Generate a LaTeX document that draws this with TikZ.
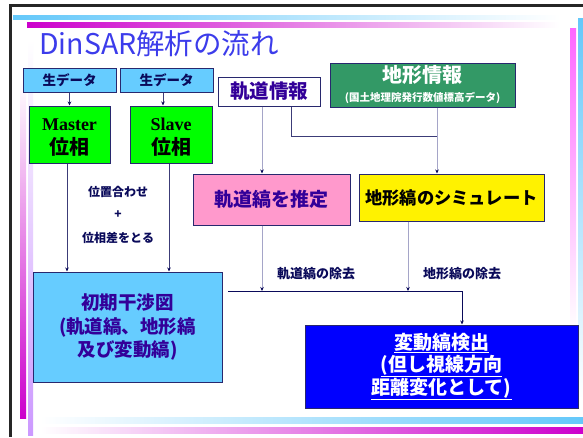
\documentclass[tikz,border=0pt]{standalone}
\usepackage{fontspec}
\setmainfont{Liberation Serif}
\newfontfamily\jp{Noto Sans CJK JP}
\usetikzlibrary{arrows.meta}
\newcommand\myfs[2]{\fontsize{#1}{#2}\selectfont}
\newcommand\lowtwo[2]{\raisebox{-3pt}[\height][\depth]{\begin{tabular}{@{}c@{}}{\bfseries #1}\\{\jp\bfseries\myfs{20}{22}#2}\end{tabular}}}
\definecolor{titleblue}{RGB}{60,60,235}
\definecolor{skyb}{RGB}{102,204,255}
\definecolor{navyb}{RGB}{40,40,110}
\definecolor{dgreen}{RGB}{51,153,102}
\definecolor{pinkb}{RGB}{255,153,204}
\definecolor{purp}{RGB}{51,0,153}
\definecolor{lav}{RGB}{165,165,200}
\definecolor{navyl}{RGB}{60,60,120}
\definecolor{darkn}{RGB}{10,10,90}
\definecolor{lblue}{RGB}{100,200,250}
\definecolor{magb}{RGB}{204,0,204}
\definecolor{pmag}{RGB}{255,102,255}
\definecolor{lilac}{RGB}{204,153,255}
\tikzset{
  box/.style={draw=navyb, line width=1pt, inner sep=0pt, align=center},
  lbl/.style={font=\jp\bfseries\myfs{12}{14}, text=darkn, inner sep=0pt},
  arr/.style={line width=0.8pt, -{Stealth[length=4pt,width=3.5pt,color=darkn]}},
  lavline/.style={arr, draw=lav},
  navline/.style={arr, draw=navyl},
}
\begin{document}
\begin{tikzpicture}[x=1pt,y=-1pt]
\useasboundingbox (0,0) rectangle (583,437);
\fill[white] (0,0) rectangle (583,437);
% frame
\fill[black!85] (9,4) rectangle (583,6.5);
\fill[black!85] (9,4) rectangle (11.5,437);
% decorative bars
\shade[left color=lblue, right color=white] (13,15) rectangle (560,19);
\shade[left color=magb, right color=white] (27,22) rectangle (560,27);
\shade[top color=white, bottom color=magb] (20,80) rectangle (26,418);
\shade[top color=white, bottom color=lilac] (28,40) rectangle (33,435);
\shade[top color=pmag, bottom color=white] (570,28) rectangle (576,330);
\shade[top color=lblue, bottom color=white] (578,18) rectangle (583,400);
\shade[left color=white, right color=lblue] (40,417) rectangle (583,423);
\shade[left color=white, right color=magb] (40,427) rectangle (583,433);
% title
\node[anchor=west, inner sep=0pt, text=titleblue, font=\jp\myfs{28.5}{30}] (title) at (39,44) {DinSAR解析の流れ};
% boxes
\node[box, fill=skyb, minimum width=93pt, minimum height=24pt, font=\jp\bfseries\myfs{13.5}{15}, text=darkn] (raw1) at (69.5,80) {生データ};
\node[box, fill=skyb, minimum width=93pt, minimum height=24pt, font=\jp\bfseries\myfs{13.5}{15}, text=darkn] (raw2) at (166.5,80) {生データ};
\node[box, fill=green, minimum width=81pt, minimum height=57pt, text=black, font=\myfs{18}{24}] (master) at (69.5,134.5) {\lowtwo{Master}{位相}};
\node[box, fill=green, minimum width=82pt, minimum height=57pt, text=black, font=\myfs{18}{24}] (slave) at (171,134.5) {\lowtwo{Slave}{位相}};
\node[box, fill=white, minimum width=102pt, minimum height=29pt, font=\jp\bfseries\myfs{19.5}{21}, text=purp] (kidou) at (269,91.5) {軌道情報};
\node[box, fill=dgreen, minimum width=185pt, minimum height=44pt, text=white, font=\jp\bfseries\myfs{20}{19}] (chikei) at (422.5,85) {地形情報\\{\myfs{10.5}{12}(国土地理院発行数値標高データ)}};
\node[box, fill=pinkb, minimum width=157pt, minimum height=51pt, font=\jp\bfseries\myfs{19}{21}, text=purp] (kest) at (271.5,199.5) {軌道縞を推定};
\node[box, fill=yellow, minimum width=185pt, minimum height=47pt, font=\jp\bfseries\myfs{17.3}{20}, text=black] (csim) at (451.5,197.5) {地形縞のシミュレート};
\node[box, fill=skyb, minimum width=189pt, minimum height=110pt, font=\jp\bfseries\myfs{18.5}{23.5}, text=purp] (init) at (127.5,327) {初期干渉図\\(軌道縞、地形縞\\及び変動縞)};
\node[box, fill=blue, minimum width=273pt, minimum height=83pt, font=\jp\bfseries\myfs{19}{22}, text=white] (detect) at (441.5,366.5) {\underline{変動縞検出}\\\underline{(但し視線方向}\\\underline{距離変化として)}};
% labels
\node[lbl] (l1) at (118,192) {位置合わせ};
\node[lbl] (l2) at (118,215) {+};
\node[lbl] (l3) at (118,238) {位相差をとる};
\node[lbl, font=\jp\bfseries\myfs{13}{15}] (l4) at (316,274) {軌道縞の除去};
\node[lbl, font=\jp\bfseries\myfs{13}{15}] (l5) at (462,274) {地形縞の除去};
% helper coordinates
\coordinate (x163) at (163,0);
\coordinate (x67) at (67,0);
\coordinate (x169) at (169,0);
\coordinate (x262) at (262,0);
\coordinate (x291) at (291,0);
\coordinate (x437) at (437,0);
\coordinate (x408) at (408,0);
\coordinate (bend) at (291,136);
\coordinate (jl) at (228,291);
\coordinate (jr) at (462,291);
% connectors
\draw[navline] (raw1.south) -- (master.north);
\draw[navline] (raw2.south -| x163) -- (slave.north -| x163);
\draw[navline] (master.south -| x67) -- (init.north -| x67);
\draw[navline] (slave.south -| x169) -- (init.north -| x169);
\draw[lavline] (kidou.south -| x262) -- (kest.north -| x262);
\draw[line width=0.8pt, draw=navyl] (kidou.south -| x291) -- (bend) -- (bend -| x437);
\draw[lavline] (chikei.south -| x437) -- (csim.north -| x437);
\draw[lavline] (kest.south -| x262) -- (jl -| x262);
\draw[lavline] (csim.south -| x408) -- (jl -| x408);
\draw[line width=0.9pt, draw=darkn, -{Stealth[length=4pt,width=3.5pt]}] (jl) -- (jr) -- (detect.north -| jr);
\end{tikzpicture}
\end{document}
